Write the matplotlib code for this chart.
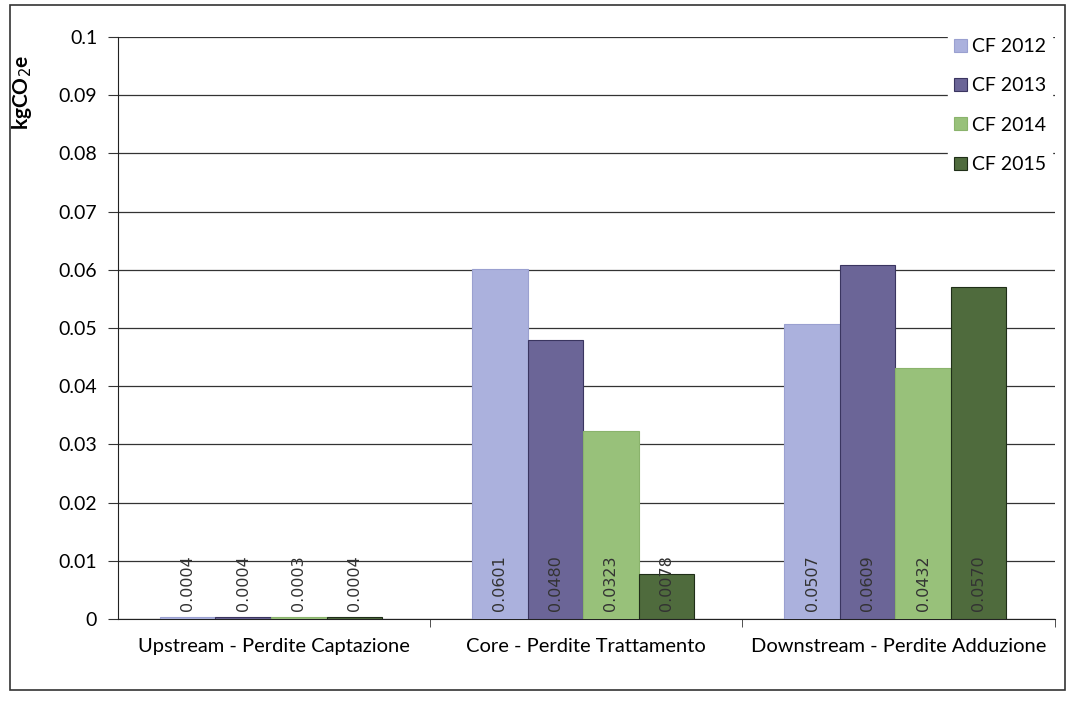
import matplotlib
matplotlib.use("Agg")
import matplotlib.pyplot as plt
import numpy as np
from matplotlib.patches import Rectangle

categories = ["Upstream - Perdite Captazione", "Core - Perdite Trattamento", "Downstream - Perdite Adduzione"]
series_names = ["CF 2012", "CF 2013", "CF 2014", "CF 2015"]
cf2012 = [0.0004, 0.0601, 0.0507]
cf2013 = [0.0004, 0.0480, 0.0609]
cf2014 = [0.0003, 0.0323, 0.0432]
cf2015 = [0.0004, 0.0078, 0.0570]
labels2012 = ["0.0004", "0.0601", "0.0507"]
labels2013 = ["0.0004", "0.0480", "0.0609"]
labels2014 = ["0.0003", "0.0323", "0.0432"]
labels2015 = ["0.0004", "0.0078", "0.0570"]
yticks = [0, 0.01, 0.02, 0.03, 0.04, 0.05, 0.06, 0.07, 0.08, 0.09, 0.1]
ytick_labels = ["0", "0.01", "0.02", "0.03", "0.04", "0.05", "0.06", "0.07", "0.08", "0.09", "0.1"]

colors = ["#abb1dd", "#6b6597", "#98c17a", "#4f6b3d"]
edges = ["#9aa0d0", "#3a3560", "#8ab36c", "#1f2e18"]

plt.rcParams['font.family'] = ['Lato', 'DejaVu Sans']

fig = plt.figure(figsize=(10.75, 7.08), dpi=100)
ax = fig.add_axes([0.1098, 0.1257, 0.8712, 0.822])

x = np.arange(len(categories))
w = 0.178
data = [cf2012, cf2013, cf2014, cf2015]
labs = [labels2012, labels2013, labels2014, labels2015]
for i, (vals, lb) in enumerate(zip(data, labs)):
    pos = x + (i - 1.5) * w - 0.01
    ax.bar(pos, vals, width=w, color=colors[i], edgecolor=edges[i], linewidth=0.8,
           label=series_names[i], zorder=3)
    for p, t in zip(pos, lb):
        ax.annotate(t, (p, 0), xytext=(0, 6), textcoords="offset points",
                    rotation=90, ha="center", va="bottom", fontsize=11.5,
                    color="#333333", family=["DejaVu Sans"], zorder=4)

ax.set_ylim(0, 0.1)
ax.set_xlim(-0.5, 2.5)
ax.set_yticks(yticks)
ax.set_yticklabels(ytick_labels, fontsize=14)
ax.yaxis.grid(True, color="#333333", linewidth=0.9, zorder=0)
ax.set_axisbelow(True)
ax.set_xticks(x)
ax.set_xticklabels(categories, fontsize=14.5)
ax.tick_params(axis="x", which="major", length=0, pad=14)
ax.set_xticks([0.5, 1.5, 2.5], minor=True)
ax.tick_params(axis="x", which="minor", length=6, direction="out", color="#333333")
ax.tick_params(axis="y", length=7, direction="out", color="#333333", pad=8)
for s in ["top", "right"]:
    ax.spines[s].set_visible(False)
ax.spines["left"].set_color("#222222")
ax.spines["bottom"].set_color("#222222")
ax.set_ylabel("kgCO$_2$e", fontsize=15, fontweight="bold", labelpad=6)
ax.yaxis.set_label_coords(-0.09, 0.905)

leg = ax.legend(loc="upper right", bbox_to_anchor=(1.008, 1.025), frameon=True,
                fontsize=14, handlelength=0.65, handleheight=0.65, handletextpad=0.3,
                labelspacing=1.15, borderpad=0.3)
leg.get_frame().set_facecolor("white")
leg.get_frame().set_edgecolor("white")
leg.get_frame().set_alpha(1)

fig.patches.append(Rectangle((0.009, 0.025), 0.982, 0.968, transform=fig.transFigure,
                             fill=False, edgecolor="#333333", linewidth=1.2))

fig.savefig("out.png", dpi=100, facecolor="white")
